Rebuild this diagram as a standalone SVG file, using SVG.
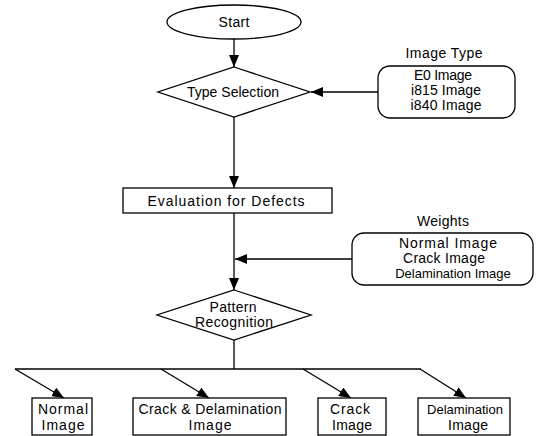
<svg xmlns="http://www.w3.org/2000/svg" width="542" height="436" viewBox="0 0 542 436">
<defs>
<marker id="arr" markerUnits="userSpaceOnUse" markerWidth="12" markerHeight="10" viewBox="0 0 12 10" refX="12" refY="5" orient="auto">
<path d="M0,0 L12,5 L0,10 Z" fill="#000"/>
</marker>
</defs>
<style>
.s{fill:#fff;stroke:#000;stroke-width:1.3}
.c{fill:none;stroke:#000;stroke-width:1.3}
text{font-family:"Liberation Sans",Arial,sans-serif;font-size:14px;fill:#000;text-anchor:middle}
.sm{font-size:13px}
</style>
<rect width="542" height="436" fill="#fff"/>
<g id="connectors">
<line class="c" x1="234" y1="39" x2="234" y2="67" marker-end="url(#arr)"/>
<line class="c" x1="378" y1="92" x2="311" y2="92" marker-end="url(#arr)"/>
<line class="c" x1="234" y1="117" x2="234" y2="188" marker-end="url(#arr)"/>
<line class="c" x1="234" y1="213" x2="234" y2="290" marker-end="url(#arr)"/>
<line class="c" x1="352" y1="259" x2="235" y2="259" marker-end="url(#arr)"/>
<line class="c" x1="234" y1="340" x2="234" y2="369"/>
<line class="c" x1="15" y1="369" x2="421" y2="369"/>
<line class="c" x1="15" y1="369" x2="64" y2="398" marker-end="url(#arr)"/>
<line class="c" x1="161" y1="369" x2="209" y2="398" marker-end="url(#arr)"/>
<line class="c" x1="303" y1="369" x2="351" y2="398" marker-end="url(#arr)"/>
<line class="c" x1="420" y1="369" x2="466" y2="398" marker-end="url(#arr)"/>
</g>
<g id="start">
<ellipse class="s" cx="234" cy="22" rx="67" ry="17"/>
<text x="234" y="27" textLength="31">Start</text>
</g>
<g id="type-selection">
<polygon class="s" points="234,67 310,92 234,117 158,92"/>
<text x="233" y="97" textLength="92">Type Selection</text>
</g>
<g id="image-type">
<text x="444" y="58" textLength="77">Image Type</text>
<rect class="s" x="378" y="66" width="137" height="52" rx="12" ry="12"/>
<text x="443" y="80" textLength="58">E0 Image</text>
<text x="446" y="95" textLength="70">i815 Image</text>
<text x="446" y="110" textLength="71">i840 Image</text>
</g>
<g id="evaluation">
<rect class="s" x="123" y="188" width="209" height="25"/>
<text x="226" y="206" textLength="157">Evaluation for Defects</text>
</g>
<g id="weights">
<text x="443" y="226" textLength="52">Weights</text>
<rect class="s" x="352" y="233" width="181" height="52" rx="12" ry="12"/>
<text x="448" y="248" textLength="98">Normal Image</text>
<text x="444" y="263" textLength="82">Crack Image</text>
<text class="sm" x="453" y="278">Delamination Image</text>
</g>
<g id="pattern-recognition">
<polygon class="s" points="234,290 311,315 234,340 157,315"/>
<text x="233" y="312" textLength="47">Pattern</text>
<text x="234" y="327" textLength="78">Recognition</text>
</g>
<g id="normal-image">
<rect class="s" x="32" y="398" width="60" height="37"/>
<text x="63" y="414" textLength="50">Normal</text>
<text x="63" y="430" textLength="43">Image</text>
</g>
<g id="crack-delamination-image">
<rect class="s" x="133" y="398" width="153" height="37"/>
<text x="210" y="414" textLength="143">Crack &amp; Delamination</text>
<text x="210" y="430" textLength="43">Image</text>
</g>
<g id="crack-image">
<rect class="s" x="318" y="398" width="68" height="37"/>
<text x="350" y="414" textLength="40">Crack</text>
<text x="352" y="430" textLength="40">Image</text>
</g>
<g id="delamination-image">
<rect class="s" x="418" y="398" width="92" height="37"/>
<text class="sm" x="465" y="414">Delamination</text>
<text x="468" y="430" textLength="40">Image</text>
</g>
</svg>
